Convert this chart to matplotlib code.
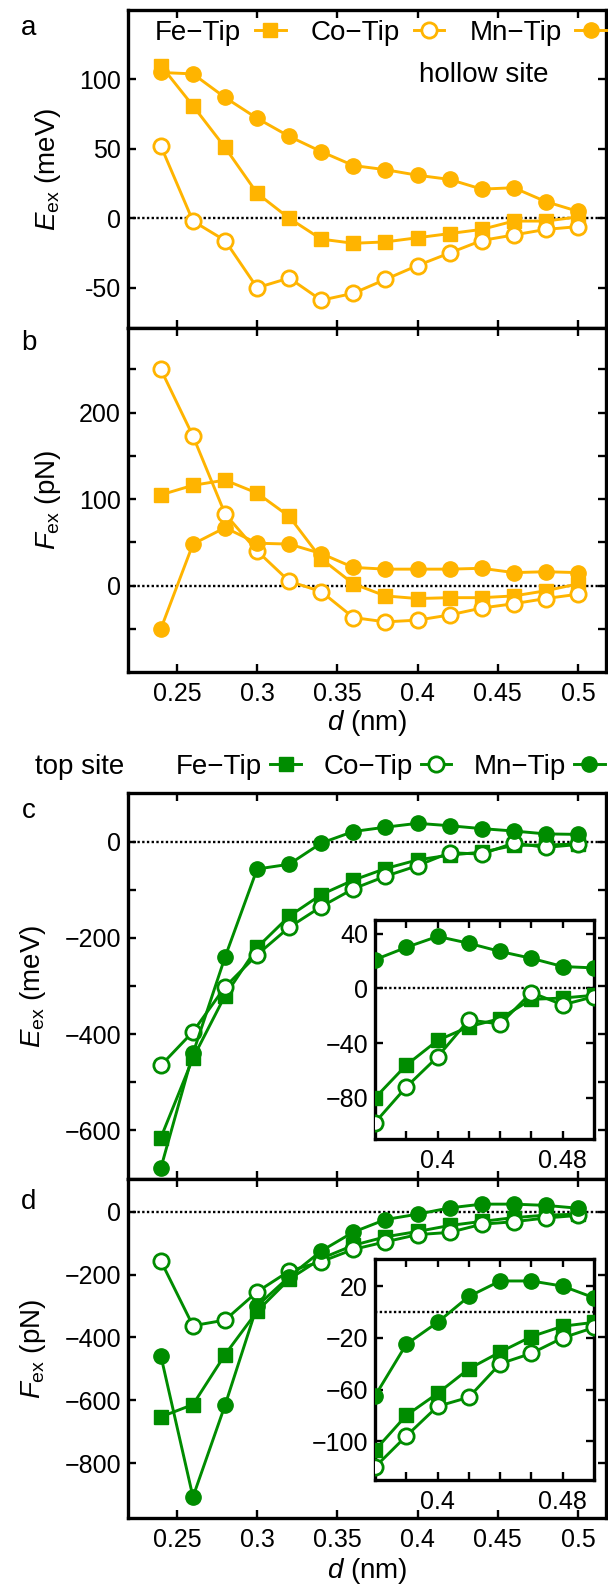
import numpy as np
import matplotlib
matplotlib.use('Agg')
import matplotlib.pyplot as plt
from matplotlib.lines import Line2D

plt.rcParams['font.family'] = ['Liberation Sans', 'DejaVu Sans']
plt.rcParams['mathtext.fontset'] = 'custom'
plt.rcParams['mathtext.rm'] = 'Liberation Sans'
plt.rcParams['mathtext.it'] = 'Liberation Sans:italic'
plt.rcParams['font.size'] = 20

# tip-sample distance (nm)
d = [0.24, 0.26, 0.28, 0.30, 0.32, 0.34, 0.36, 0.38, 0.40, 0.42, 0.44, 0.46, 0.48, 0.50]

# hollow site: exchange energy (meV)
E_hollow_fe = [110, 81, 51, 18, 0, -15, -18, -17, -14, -11, -8, -2, -2, 1]
E_hollow_co = [52, -2, -16, -50, -43, -59, -54, -44, -34, -25, -16, -12, -8, -6]
E_hollow_mn = [105, 104, 87, 72, 59, 48, 38, 35, 31, 28, 21, 22, 12, 5]

# hollow site: exchange force (pN)
F_hollow_fe = [105, 116, 122, 107, 80, 31, 2, -12, -15, -14, -14, -12, -6, 2]
F_hollow_co = [250, 173, 83, 40, 5, -7, -37, -42, -40, -34, -26, -21, -15, -10]
F_hollow_mn = [-50, 48, 67, 49, 48, 37, 21, 19, 19, 19, 20, 15, 16, 15]

# top site: exchange energy (meV)
E_top_fe = [-615, -450, -320, -220, -155, -110, -80, -56, -38, -28, -22, -8, -7, -5]
E_top_co = [-465, -395, -302, -235, -178, -135, -98, -72, -50, -23, -26, -3, -12, -6]
E_top_mn = [-678, -440, -240, -57, -47, -3, 21, 30, 38, 33, 27, 22, 16, 15]

# top site: exchange force (pN)
F_top_fe = [-653, -614, -455, -317, -215, -149, -107, -80, -63, -44, -31, -19, -11, -8]
F_top_co = [-157, -363, -345, -255, -189, -159, -120, -96, -73, -66, -40, -32, -20, -12]
F_top_mn = [-459, -908, -616, -300, -207, -125, -65, -25, -8, 12, 24, 24, 20, 11]

tips = ['Fe\u2212Tip', 'Co\u2212Tip', 'Mn\u2212Tip']
orange = '#FFB400'
green = '#008C00'

W, H = 608, 1589
fig = plt.figure(figsize=(W / 100, H / 100), dpi=100)

TICK_FS = 18
TEXT_FS = 20


def box(x0, y0, x1, y1):
    # pixel box (top-left origin) -> figure fraction rect
    return [x0 / W, 1 - y1 / H, (x1 - x0) / W, (y1 - y0) / H]


def style(ax, lw=2.4):
    for s in ax.spines.values():
        s.set_linewidth(lw)
    ax.tick_params(direction='in', top=True, right=True, length=6, width=1.7,
                   labelsize=TICK_FS)
    ax.tick_params(axis='x', pad=7)
    ax.tick_params(axis='y', pad=5)


def draw(ax, color, fe, co, mn, xs=d):
    ax.axhline(0, color='black', ls=(0, (1, 1)), lw=1.7, zorder=1)
    kw = dict(color=color, lw=2.1, zorder=3)
    ax.plot(xs, fe, marker='s', ms=10, **kw)
    ax.plot(xs, co, marker='o', ms=11, mfc='white', mew=2.0, **kw)
    ax.plot(xs, mn, marker='o', ms=11, **kw)


def legend(ax, color, x, y, pad, cs):
    hs = [Line2D([], [], color=color, lw=2.1, marker='s', ms=10),
          Line2D([], [], color=color, lw=2.1, marker='o', ms=11, mfc='white', mew=2.0),
          Line2D([], [], color=color, lw=2.1, marker='o', ms=11)]
    lg = ax.legend(hs, tips, ncol=3, markerfirst=False, frameon=False,
                   loc='center left', bbox_to_anchor=(x / W, 1 - y / H),
                   bbox_transform=fig.transFigure, handlelength=1.1,
                   handletextpad=pad, columnspacing=cs, borderpad=0,
                   borderaxespad=0, fontsize=TEXT_FS, numpoints=1)
    lg.set_clip_on(False)


xlim = (0.2195, 0.5175)
xt = [0.25, 0.3, 0.35, 0.4, 0.45, 0.5]
xtl = ['0.25', '0.3', '0.35', '0.4', '0.45', '0.5']

# panel a
ax_a = fig.add_axes(box(128, 10, 606, 328))
draw(ax_a, orange, E_hollow_fe, E_hollow_co, E_hollow_mn)
ax_a.set_xlim(xlim)
ax_a.set_ylim(-79, 150)
ax_a.set_xticks(xt)
ax_a.set_xticklabels([])
ax_a.set_yticks([-50, 0, 50, 100])
ax_a.set_yticklabels(['-50', '0', '50', '100'])
ax_a.set_ylabel(r'$E_\mathrm{ex}$ (meV)', fontsize=TEXT_FS, labelpad=12)
style(ax_a)
legend(ax_a, orange, 155, 33, 0.5, 0.9)
fig.text(419 / W, 1 - 75 / H, 'hollow site', fontsize=TEXT_FS, va='center')

# panel b
ax_b = fig.add_axes(box(128, 328, 606, 672))
draw(ax_b, orange, F_hollow_fe, F_hollow_co, F_hollow_mn)
ax_b.set_xlim(xlim)
ax_b.set_ylim(-100, 298)
ax_b.set_xticks(xt)
ax_b.set_xticklabels(xtl)
ax_b.set_yticks([-50, 0, 50, 100, 150, 200, 250])
ax_b.set_yticklabels(['', '0', '', '100', '', '200', ''])
ax_b.set_ylabel(r'$F_\mathrm{ex}$ (pN)', fontsize=TEXT_FS, labelpad=12)
ax_b.set_xlabel(r'$d$ (nm)', fontsize=TEXT_FS, labelpad=2)
style(ax_b)

# panel c
ax_c = fig.add_axes(box(128, 793, 606, 1179))
draw(ax_c, green, E_top_fe, E_top_co, E_top_mn)
ax_c.set_xlim(xlim)
ax_c.set_ylim(-701, 101)
ax_c.set_xticks(xt)
ax_c.set_xticklabels([])
ax_c.set_yticks([-600, -500, -400, -300, -200, -100, 0])
ax_c.set_yticklabels(['\u2212600', '', '\u2212400', '', '\u2212200', '', '0'])
ax_c.set_ylabel(r'$E_\mathrm{ex}$ (meV)', fontsize=TEXT_FS, labelpad=12)
style(ax_c)
legend(ax_c, green, 176, 767, 0.3, 0.8)
fig.text(35 / W, 1 - 767 / H, 'top site', fontsize=TEXT_FS, va='center')

# panel d
ax_d = fig.add_axes(box(128, 1179, 606, 1518))
draw(ax_d, green, F_top_fe, F_top_co, F_top_mn)
ax_d.set_xlim(xlim)
ax_d.set_ylim(-975, 104)
ax_d.set_xticks(xt)
ax_d.set_xticklabels(xtl)
ax_d.set_yticks([-800, -600, -400, -200, 0])
ax_d.set_yticklabels(['\u2212800', '\u2212600', '\u2212400', '\u2212200', '0'])
ax_d.set_ylabel(r'$F_\mathrm{ex}$ (pN)', fontsize=TEXT_FS, labelpad=12)
ax_d.set_xlabel(r'$d$ (nm)', fontsize=TEXT_FS, labelpad=3)
style(ax_d)

# insets (zoom on d >= 0.36)
k = d.index(0.36)
in_xt = [0.38, 0.40, 0.42, 0.44, 0.46, 0.48]
in_xtl = ['', '0.4', '', '', '', '0.48']

ax_ci = fig.add_axes(box(375, 920, 594, 1139))
draw(ax_ci, green, E_top_fe[k:], E_top_co[k:], E_top_mn[k:], xs=d[k:])
ax_ci.set_xlim(0.36, 0.50)
ax_ci.set_ylim(-110, 50)
ax_ci.set_xticks(in_xt)
ax_ci.set_xticklabels(in_xtl)
ax_ci.set_yticks([-80, -40, 0, 40])
ax_ci.set_yticklabels(['\u221280', '\u221240', '0', '40'])
style(ax_ci)

ax_di = fig.add_axes(box(375, 1259, 594, 1480))
draw(ax_di, green, F_top_fe[k:], F_top_co[k:], F_top_mn[k:], xs=d[k:])
ax_di.set_xlim(0.36, 0.50)
ax_di.set_ylim(-130, 41)
ax_di.set_xticks(in_xt)
ax_di.set_xticklabels(in_xtl)
ax_di.set_yticks([-100, -60, -20, 20])
ax_di.set_yticklabels(['\u2212100', '\u221260', '\u221220', '20'])
style(ax_di)

# panel letters
for lab, yy in [('a', 28), ('b', 343), ('c', 811), ('d', 1202)]:
    fig.text(29 / W, 1 - yy / H, lab, fontsize=TEXT_FS, ha='center', va='center')

fig.savefig('out.png', dpi=100)
